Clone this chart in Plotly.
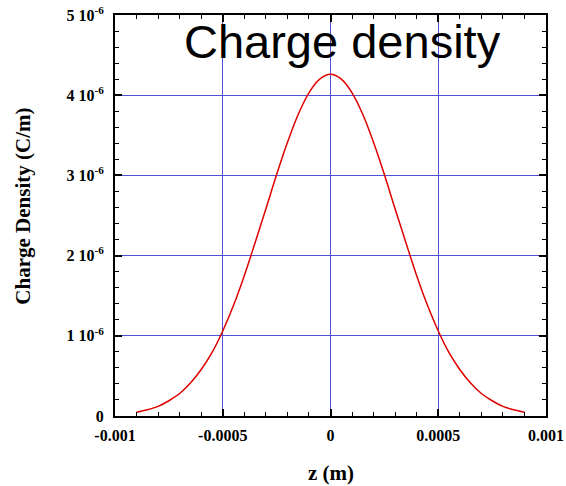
import plotly.graph_objects as go

# Data
z_m = [-0.0009, -0.00085, -0.0008, -0.00075, -0.0007, -0.00065, -0.0006, -0.00055,
       -0.0005, -0.00045, -0.0004, -0.00035, -0.0003, -0.00025, -0.0002, -0.00015,
       -0.0001, -0.00005, 0.0, 0.00005, 0.0001, 0.00015, 0.0002, 0.00025, 0.0003,
       0.00035, 0.0004, 0.00045, 0.0005, 0.00055, 0.0006, 0.00065, 0.0007, 0.00075,
       0.0008, 0.00085, 0.0009]
density_1e6 = [0.047, 0.077, 0.12, 0.19, 0.28, 0.41, 0.58, 0.79,
               1.06, 1.38, 1.75, 2.16, 2.58, 3.01, 3.41, 3.76,
               4.03, 4.20, 4.26, 4.20, 4.03, 3.76, 3.41, 3.01, 2.58,
               2.16, 1.75, 1.38, 1.06, 0.79, 0.58, 0.41, 0.28, 0.19,
               0.12, 0.077, 0.047]
density = [v * 1e-6 for v in density_1e6]

x_tickvals = [-0.001, -0.0005, 0, 0.0005, 0.001]
x_ticktext = ["-0.001", "-0.0005", "0", "0.0005", "0.001"]
y_tickvals = [0, 1e-6, 2e-6, 3e-6, 4e-6, 5e-6]
y_ticktext = ["0", "1 10<sup>-6</sup>", "2 10<sup>-6</sup>", "3 10<sup>-6</sup>",
              "4 10<sup>-6</sup>", "5 10<sup>-6</sup>"]

title_text = "Charge density"
x_title = "z (m)"
y_title = "Charge Density (C/m)"

fig = go.Figure()
fig.add_trace(go.Scatter(x=z_m, y=density, mode="lines",
                         line=dict(color="#e00000", width=1.5, shape="spline"),
                         showlegend=False, hoverinfo="skip"))

tickfont = dict(family="Liberation Serif", size=16, color="black", weight="bold")
gridcol = "rgb(80,80,215)"

fig.update_xaxes(range=[-0.001, 0.001], tickvals=x_tickvals, ticktext=x_ticktext,
                 tickfont=tickfont, ticks="inside", ticklen=7, tickwidth=1.5,
                 tickcolor="black", showline=True, linecolor="black", linewidth=2,
                 mirror="ticks", showgrid=True, gridcolor=gridcol, gridwidth=1,
                 zeroline=False, automargin=False, ticklabelstandoff=4,
                 minor=dict(dtick=0.0001, tick0=0, ticks="inside", ticklen=4,
                            tickcolor="black", tickwidth=1, showgrid=False))
fig.update_yaxes(range=[0, 5e-6], tickvals=y_tickvals, ticktext=y_ticktext,
                 tickfont=tickfont, ticks="inside", ticklen=7, tickwidth=1.5,
                 tickcolor="black", showline=True, linecolor="black", linewidth=2,
                 mirror="ticks", showgrid=True, gridcolor=gridcol, gridwidth=1,
                 zeroline=False, ticklabelstandoff=6, automargin=False,
                 minor=dict(dtick=0.2e-6, tick0=0, ticks="inside", ticklen=4,
                            tickcolor="black", tickwidth=1, showgrid=False))

axis_title_font = dict(family="Liberation Serif", size=21, color="black", weight="bold")
fig.add_annotation(text=x_title, x=0.5, y=-0.141, xref="paper", yref="paper",
                   showarrow=False, xanchor="center", yanchor="middle",
                   font=axis_title_font)
fig.add_annotation(text=y_title, x=-0.214, y=0.524, xref="paper", yref="paper",
                   showarrow=False, xanchor="center", yanchor="middle",
                   textangle=-90, font=axis_title_font)

fig.add_annotation(text=title_text, x=0.527, y=0.935, xref="paper", yref="paper",
                   showarrow=False, xanchor="center", yanchor="middle",
                   font=dict(family="Liberation Sans", size=47, color="black"))

fig.update_layout(width=566, height=486, margin=dict(l=115, r=20, t=15, b=70),
                  paper_bgcolor="white", plot_bgcolor="white")

fig.write_html("out.html")
